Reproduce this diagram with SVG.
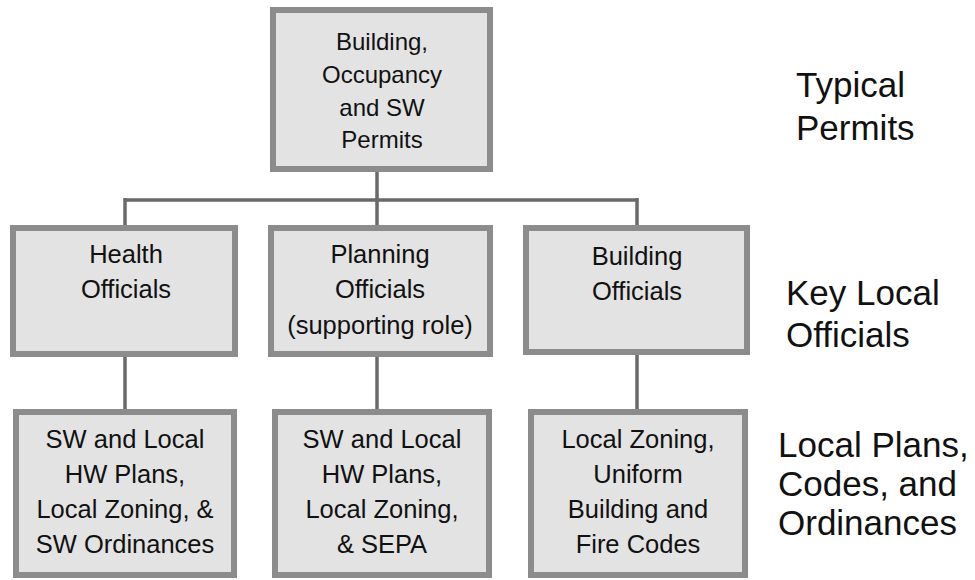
<svg xmlns="http://www.w3.org/2000/svg" width="975" height="580" viewBox="0 0 975 580">
<style>
.box{fill:#e3e3e3;stroke:#8c8c8c;stroke-width:6}
.t{font-family:"Liberation Sans",Arial,sans-serif;fill:#111;text-anchor:middle}
.t24{font-size:24px}
.t25{font-size:25.5px}
.lbl{font-family:"Liberation Sans",Arial,sans-serif;fill:#111;font-size:35px}
.con{stroke:#6a6a6a;stroke-width:3.5;fill:none}
</style>
<rect width="975" height="580" fill="#ffffff"/>
<g id="connectors">
<line class="con" x1="377" y1="172" x2="377" y2="200"/>
<line class="con" x1="125" y1="200" x2="637" y2="200"/>
<line class="con" x1="125" y1="198" x2="125" y2="226"/>
<line class="con" x1="377" y1="200" x2="377" y2="226"/>
<line class="con" x1="637" y1="198" x2="637" y2="226"/>
<line class="con" x1="125" y1="357" x2="125" y2="410"/>
<line class="con" x1="377" y1="357" x2="377" y2="410"/>
<line class="con" x1="637" y1="355" x2="637" y2="410"/>
</g>
<g id="permits">
<rect class="box" x="273" y="10" width="217" height="159"/>
<text class="t t24" x="382" y="50">Building,</text>
<text class="t t24" x="382" y="83">Occupancy</text>
<text class="t t24" x="382" y="116">and SW</text>
<text class="t t24" x="382" y="148">Permits</text>
</g>
<g id="health">
<rect class="box" x="13" y="228" width="222" height="126"/>
<text class="t t25" x="126" y="263">Health</text>
<text class="t t25" x="126" y="298">Officials</text>
</g>
<g id="planning">
<rect class="box" x="271" y="228" width="219" height="126"/>
<text class="t t25" x="380" y="263">Planning</text>
<text class="t t25" x="380" y="298">Officials</text>
<text class="t t25" x="380" y="334">(supporting role)</text>
</g>
<g id="building">
<rect class="box" x="526" y="228" width="221" height="124"/>
<text class="t t25" x="637" y="265">Building</text>
<text class="t t25" x="637" y="300">Officials</text>
</g>
<g id="health-plans">
<rect class="box" x="16" y="412" width="218" height="163"/>
<text class="t t25" x="125" y="448">SW and Local</text>
<text class="t t25" x="125" y="483">HW Plans,</text>
<text class="t t25" x="125" y="518">Local Zoning, &amp;</text>
<text class="t t25" x="125" y="553">SW Ordinances</text>
</g>
<g id="planning-plans">
<rect class="box" x="275" y="412" width="214" height="163"/>
<text class="t t25" x="382" y="448">SW and Local</text>
<text class="t t25" x="382" y="483">HW Plans,</text>
<text class="t t25" x="382" y="518">Local Zoning,</text>
<text class="t t25" x="382" y="553">&amp; SEPA</text>
</g>
<g id="building-codes">
<rect class="box" x="531" y="412" width="214" height="163"/>
<text class="t t25" x="638" y="448">Local Zoning,</text>
<text class="t t25" x="638" y="483">Uniform</text>
<text class="t t25" x="638" y="518">Building and</text>
<text class="t t25" x="638" y="553">Fire Codes</text>
</g>
<g id="labels">
<text class="lbl" x="796" y="97">Typical</text>
<text class="lbl" x="796" y="140">Permits</text>
<text class="lbl" x="786" y="305">Key Local</text>
<text class="lbl" x="786" y="347">Officials</text>
<text class="lbl" x="778" y="457">Local Plans,</text>
<text class="lbl" x="778" y="496">Codes, and</text>
<text class="lbl" x="778" y="535">Ordinances</text>
</g>
</svg>
